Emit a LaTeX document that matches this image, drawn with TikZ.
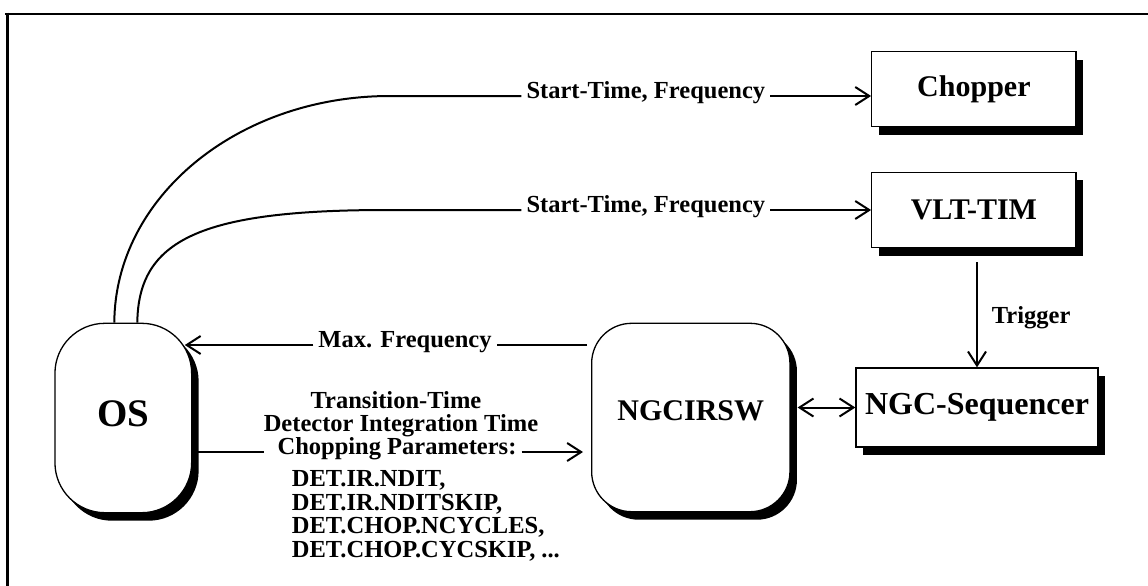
\documentclass[tikz,border=0pt]{standalone}
\usepackage{fontspec}
\setmainfont{Liberation Serif}
\usetikzlibrary{arrows.meta,shadows,calc}
\begin{document}
\begin{tikzpicture}[x=1pt,y=-1pt,
  >={Straight Barb[length=14pt,width=18pt]},
  conn/.style={line width=2pt},
  arr/.style={conn,->},
  sh/.style={drop shadow={shadow xshift=7pt,shadow yshift=-8pt,opacity=1,fill=black}},
  box/.style={draw,line width=1.3pt,fill=white,sh,inner sep=0pt,font=\fontsize{30}{36}\selectfont\bfseries},
  rbox/.style={box,rounded corners=40pt},
  lab/.style={inner ysep=0pt,inner xsep=5pt,text height=10pt,text depth=5.5pt,font=\fontsize{24.5}{23.5}\selectfont\bfseries},
  txt/.style={inner sep=0pt,font=\fontsize{24.5}{23.5}\selectfont\bfseries},
]
\useasboundingbox (0,0) rectangle (1148,586);
% frame
\draw[line width=2.7pt] (5,14) -- (1160,14);
\draw[line width=3pt] (7,12.65) -- (7,600);
% boxes
\node[box,minimum width=204.3pt,minimum height=75pt] (chop) at (973.9,89.2) {Chopper};
\node[box,minimum width=204.3pt,minimum height=75.4pt] (vlt) at (973.9,210) {VLT-TIM};
\node[box,minimum width=242pt,minimum height=79pt,font=\fontsize{32}{38}\selectfont\bfseries] (ngcseq) at (977,407.5) {NGC-Sequencer};
\node[rbox,minimum width=198.3pt,minimum height=188.4pt,text depth=14pt] (ngcirsw) at (690.8,417.5) {NGCIRSW};
\node[rbox,rounded corners=50pt,minimum width=136.7pt,minimum height=189.4pt,text depth=9pt,font=\fontsize{39}{45}\selectfont\bfseries] (os) at (123.3,418) {OS};
% labels
\node[lab] (l1) at (645.8,96) {Start-Time, Frequency};
\node[lab] (l2) at (645.8,210) {Start-Time, Frequency};
\node[lab] (mf) at (405,345) {Max. Frequency};
\node[lab,anchor=west] (trig) at (986.7,321) {Trigger};
\node[txt,anchor=base] (tt) at (396,408) {Transition-Time};
\node[txt,anchor=base] (dit) at (401,431.5) {Detector Integration Time};
\node[lab] (cp) at (397,452) {Chopping Parameters:};
\node[txt,anchor=north west,align=left] (det) at (291.7,470.5) {DET.IR.NDIT,\\DET.IR.NDITSKIP,\\DET.CHOP.NCYCLES,\\DET.CHOP.CYCSKIP, ...};
% connectors
\coordinate (o1) at ($(os.north west)+(60,0)$);
\coordinate (o2) at ($(os.north west)+(83,0)$);
\draw[conn] (o1) .. controls (115,197) and (238,96) .. (390,96) -- (l1.west);
\draw[arr] (l1.east) -- (chop.west |- l1);
\draw[conn] (o2) .. controls (138.3,240) and (200,210) .. (387,210) -- (l2.west);
\draw[arr] (l2.east) -- (vlt.west |- l2);
\draw[arr,shorten <=14pt] (vlt.south -| ngcseq.north) -- (ngcseq.north);
\draw[conn,<->,shorten <=7pt] (ngcirsw.east |- ngcseq) -- (ngcseq.west);
\draw[conn,shorten <=4pt] (ngcirsw.west |- mf) -- (mf.east);
\draw[arr,shorten >=-7.5pt] (mf.west) -- (os.east |- mf);
\draw[conn] (os.east |- cp) -- (dit.west |- cp);
\draw[arr,shorten >=8pt] (cp.east) -- (ngcirsw.west |- cp);
\end{tikzpicture}
\end{document}
